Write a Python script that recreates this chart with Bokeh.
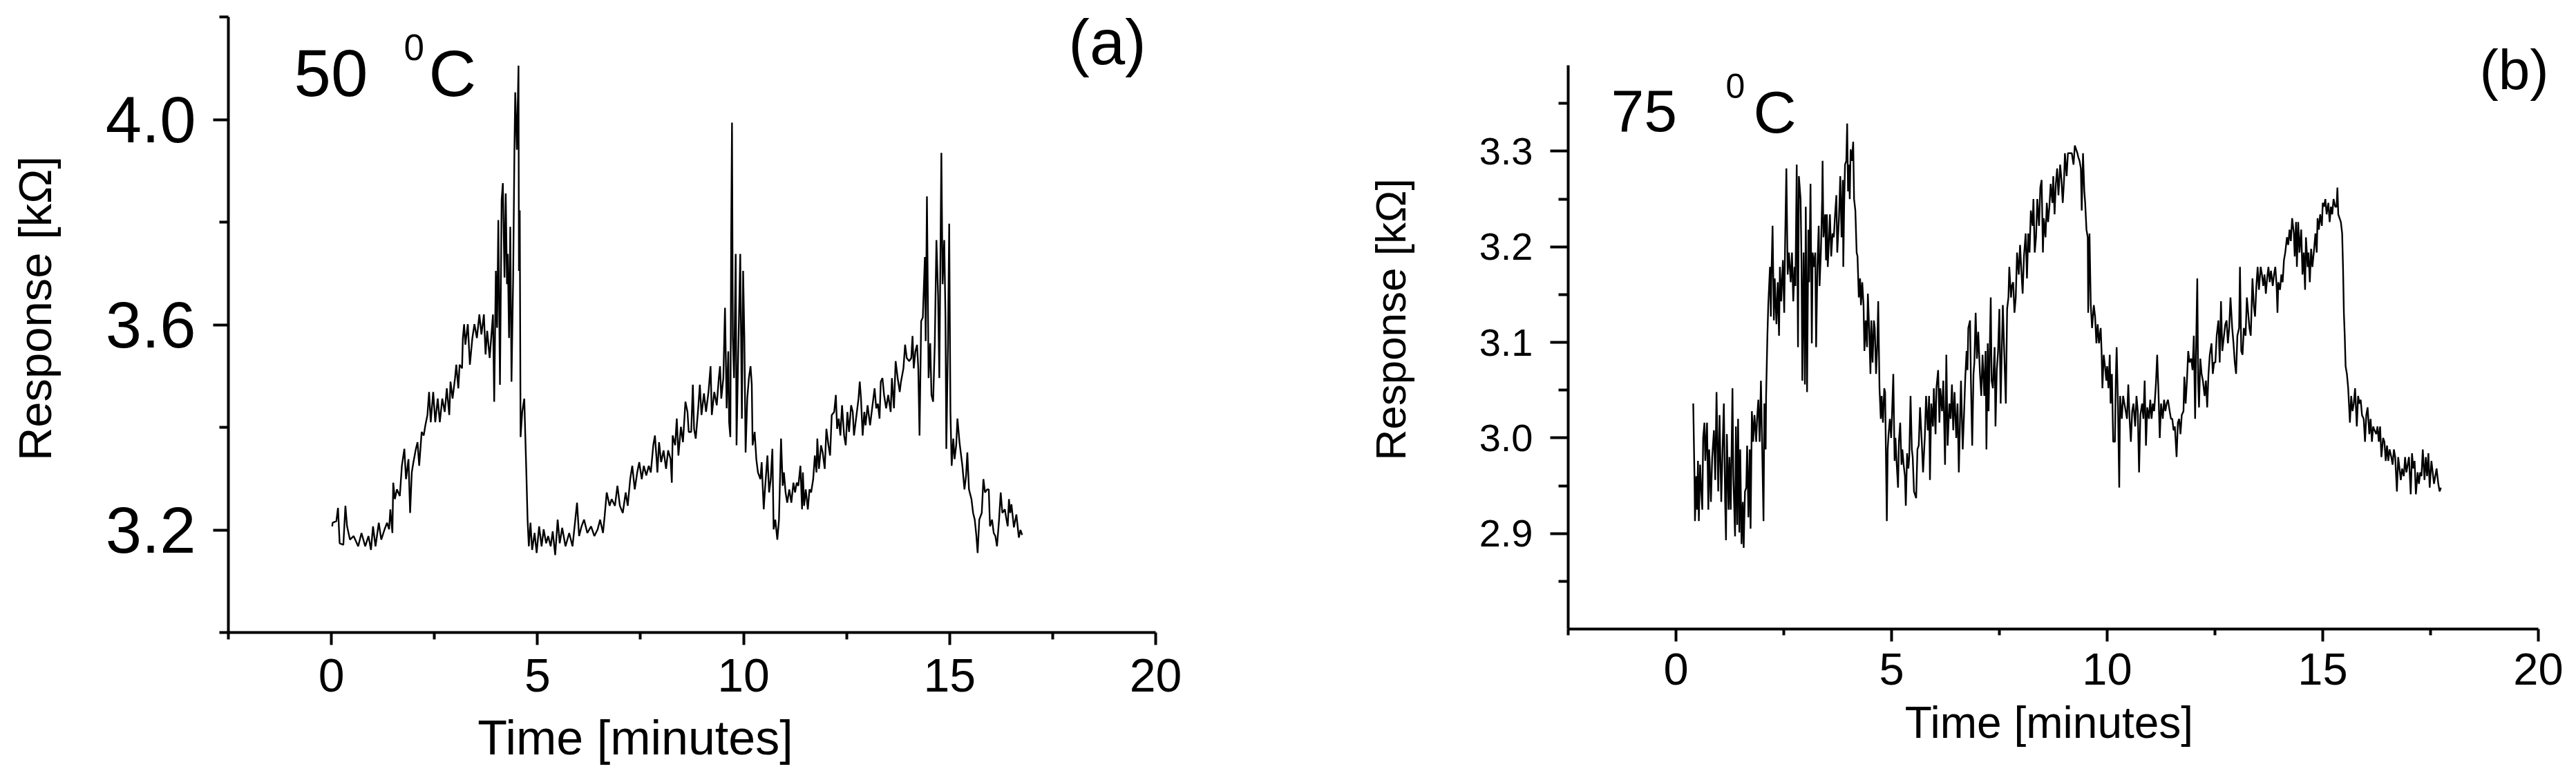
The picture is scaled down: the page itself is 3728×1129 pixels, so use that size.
import math
from bokeh.plotting import figure
from bokeh.models import FixedTicker, CustomJSTickFormatter, Label, Range1d
from bokeh.layouts import row
from bokeh.embed import file_html
from bokeh.resources import INLINE

# ---------------- data ----------------
# panel (a): 50 C  -> (time [min], response [kOhm])
trace_a = [
    (0.02, 3.207), (0.03, 3.214), (0.12, 3.217), (0.16, 3.243), (0.20, 3.174), (0.29, 3.171),
    (0.34, 3.247), (0.38, 3.207), (0.45, 3.181), (0.54, 3.188), (0.65, 3.168), (0.73, 3.194),
    (0.82, 3.168), (0.90, 3.188), (0.96, 3.161), (1.01, 3.207), (1.07, 3.168), (1.15, 3.214),
    (1.21, 3.181), (1.29, 3.201), (1.35, 3.214), (1.40, 3.201), (1.43, 3.240), (1.48, 3.194),
    (1.50, 3.292), (1.54, 3.260), (1.59, 3.279), (1.66, 3.266), (1.71, 3.325), (1.77, 3.358),
    (1.81, 3.299), (1.87, 3.338), (1.91, 3.233), (1.95, 3.312), (1.99, 3.332), (2.05, 3.358),
    (2.09, 3.371), (2.13, 3.325), (2.19, 3.391), (2.24, 3.384), (2.28, 3.404), (2.33, 3.424),
    (2.37, 3.469), (2.41, 3.410), (2.47, 3.469), (2.52, 3.410), (2.58, 3.456), (2.63, 3.410),
    (2.69, 3.456), (2.75, 3.430), (2.80, 3.476), (2.86, 3.424), (2.89, 3.489), (2.94, 3.456),
    (3.00, 3.496), (3.03, 3.522), (3.08, 3.476), (3.11, 3.522), (3.17, 3.515), (3.19, 3.574),
    (3.22, 3.601), (3.25, 3.561), (3.31, 3.601), (3.36, 3.522), (3.42, 3.574), (3.47, 3.601),
    (3.53, 3.574), (3.59, 3.620), (3.64, 3.581), (3.70, 3.620), (3.74, 3.542), (3.78, 3.588),
    (3.84, 3.535), (3.89, 3.588), (3.92, 3.620), (3.95, 3.450), (3.99, 3.705), (4.02, 3.594),
    (4.05, 3.804), (4.09, 3.483), (4.13, 3.843), (4.16, 3.876), (4.20, 3.692), (4.23, 3.856),
    (4.26, 3.679), (4.28, 3.738), (4.31, 3.574), (4.34, 3.791), (4.37, 3.489), (4.41, 3.692),
    (4.44, 3.935), (4.46, 4.053), (4.50, 3.941), (4.54, 4.105), (4.55, 3.705), (4.57, 3.823),
    (4.59, 3.381), (4.63, 3.430), (4.68, 3.456), (4.70, 3.397), (4.73, 3.312), (4.76, 3.220),
    (4.79, 3.168), (4.83, 3.214), (4.87, 3.161), (4.93, 3.194), (4.98, 3.155), (5.04, 3.207),
    (5.10, 3.168), (5.15, 3.201), (5.21, 3.174), (5.26, 3.188), (5.32, 3.168), (5.37, 3.197),
    (5.43, 3.151), (5.49, 3.220), (5.54, 3.174), (5.60, 3.204), (5.68, 3.168), (5.77, 3.194),
    (5.85, 3.168), (5.91, 3.214), (5.96, 3.253), (6.01, 3.188), (6.07, 3.207), (6.13, 3.220),
    (6.21, 3.194), (6.30, 3.207), (6.38, 3.188), (6.46, 3.201), (6.52, 3.220), (6.59, 3.194),
    (6.63, 3.227), (6.68, 3.273), (6.75, 3.247), (6.80, 3.260), (6.88, 3.247), (6.94, 3.286),
    (7.00, 3.247), (7.07, 3.233), (7.14, 3.273), (7.19, 3.247), (7.25, 3.299), (7.30, 3.325),
    (7.36, 3.279), (7.42, 3.312), (7.47, 3.332), (7.53, 3.299), (7.58, 3.325), (7.64, 3.306),
    (7.70, 3.325), (7.75, 3.312), (7.81, 3.365), (7.85, 3.384), (7.89, 3.338),
    (7.91, 3.312), (7.95, 3.371), (8.00, 3.332), (8.06, 3.355), (8.12, 3.319), (8.17, 3.355),
    (8.23, 3.338), (8.26, 3.292), (8.28, 3.384), (8.34, 3.365), (8.38, 3.417), (8.42, 3.345),
    (8.48, 3.401), (8.53, 3.371), (8.59, 3.450), (8.64, 3.430), (8.67, 3.391), (8.73, 3.391),
    (8.77, 3.483), (8.80, 3.397), (8.84, 3.378), (8.90, 3.437), (8.94, 3.483), (8.98, 3.424),
    (9.04, 3.466), (9.09, 3.430), (9.15, 3.469), (9.20, 3.519), (9.23, 3.424), (9.29, 3.469),
    (9.35, 3.443), (9.40, 3.496), (9.43, 3.519), (9.46, 3.456), (9.51, 3.496), (9.55, 3.633),
    (9.59, 3.437), (9.63, 3.548), (9.65, 3.410), (9.68, 3.381), (9.70, 3.771), (9.72, 3.994),
    (9.74, 3.574), (9.77, 3.496), (9.81, 3.738), (9.83, 3.365), (9.87, 3.542), (9.89, 3.614),
    (9.92, 3.738), (9.96, 3.417), (9.99, 3.705), (10.02, 3.574), (10.05, 3.351), (10.09, 3.456),
    (10.13, 3.496), (10.17, 3.519), (10.20, 3.483), (10.22, 3.365), (10.27, 3.391), (10.31, 3.338),
    (10.35, 3.312), (10.41, 3.299), (10.44, 3.332), (10.49, 3.240), (10.52, 3.279), (10.58, 3.345),
    (10.62, 3.273), (10.66, 3.299), (10.70, 3.358), (10.73, 3.201), (10.77, 3.220), (10.82, 3.181),
    (10.86, 3.220), (10.91, 3.378), (10.95, 3.286), (10.98, 3.312), (11.02, 3.273), (11.06, 3.253),
    (11.11, 3.279), (11.16, 3.253), (11.21, 3.292), (11.25, 3.273), (11.29, 3.292), (11.33, 3.286),
    (11.38, 3.325), (11.42, 3.240), (11.44, 3.312), (11.47, 3.247), (11.51, 3.279), (11.56, 3.240),
    (11.60, 3.279), (11.64, 3.273), (11.69, 3.299), (11.73, 3.345), (11.77, 3.312), (11.79, 3.378),
    (11.83, 3.319), (11.88, 3.365), (11.92, 3.351), (11.97, 3.319), (12.01, 3.397), (12.06, 3.365),
    (12.10, 3.345), (12.14, 3.424), (12.20, 3.430), (12.24, 3.463), (12.27, 3.397), (12.31, 3.417),
    (12.35, 3.384), (12.39, 3.443), (12.44, 3.384), (12.48, 3.365), (12.52, 3.430), (12.56, 3.391),
    (12.61, 3.443), (12.65, 3.430), (12.68, 3.384), (12.73, 3.417), (12.79, 3.456), (12.82, 3.489),
    (12.85, 3.456), (12.89, 3.384), (12.93, 3.430), (12.96, 3.404), (13.01, 3.443), (13.07, 3.404),
    (13.12, 3.437), (13.18, 3.476), (13.22, 3.437), (13.26, 3.446), (13.30, 3.417), (13.33, 3.489),
    (13.37, 3.496), (13.41, 3.463), (13.46, 3.437), (13.51, 3.463), (13.57, 3.430), (13.60, 3.496),
    (13.65, 3.437), (13.69, 3.529), (13.74, 3.496), (13.79, 3.469), (13.82, 3.489), (13.88, 3.515),
    (13.92, 3.561), (13.96, 3.535), (14.02, 3.529), (14.07, 3.535), (14.10, 3.578), (14.13, 3.515),
    (14.17, 3.548), (14.21, 3.561), (14.24, 3.515), (14.27, 3.384), (14.31, 3.607), (14.35, 3.614),
    (14.40, 3.732), (14.42, 3.568), (14.45, 3.850), (14.49, 3.496), (14.53, 3.564), (14.56, 3.463),
    (14.60, 3.450), (14.64, 3.561), (14.68, 3.765), (14.72, 3.659), (14.75, 3.496), (14.78, 3.758),
    (14.80, 3.935), (14.83, 3.679), (14.87, 3.765), (14.90, 3.614), (14.92, 3.358), (14.96, 3.561),
    (14.99, 3.797), (15.02, 3.430), (15.05, 3.325), (15.09, 3.378), (15.12, 3.338), (15.16, 3.365),
    (15.19, 3.417), (15.24, 3.371), (15.27, 3.351), (15.31, 3.325), (15.36, 3.279), (15.40, 3.306),
    (15.43, 3.351), (15.47, 3.279), (15.53, 3.260), (15.57, 3.233), (15.61, 3.220), (15.65, 3.188),
    (15.68, 3.155), (15.72, 3.220), (15.78, 3.233), (15.82, 3.299), (15.86, 3.273), (15.91, 3.279),
    (15.95, 3.279), (15.98, 3.207), (16.03, 3.220), (16.07, 3.194), (16.11, 3.188), (16.15, 3.168),
    (16.20, 3.220), (16.24, 3.273), (16.28, 3.233), (16.34, 3.240), (16.38, 3.220), (16.41, 3.207),
    (16.44, 3.260), (16.47, 3.233), (16.50, 3.250), (16.56, 3.205), (16.62, 3.230), (16.68, 3.185),
    (16.72, 3.200), (16.76, 3.190),
]

# panel (b): 75 C  -> (time [min], response [kOhm])
trace_b = [
    (0.40, 3.036), (0.43, 2.956), (0.44, 2.913), (0.47, 2.960), (0.49, 2.925), (0.51, 2.976),
    (0.53, 2.913), (0.56, 2.972), (0.59, 2.941), (0.61, 2.925), (0.63, 3.000), (0.66, 3.016),
    (0.68, 2.976), (0.72, 3.016), (0.75, 2.925), (0.77, 2.988), (0.81, 2.933), (0.84, 2.980),
    (0.88, 3.008), (0.91, 2.956), (0.94, 3.048), (0.98, 2.944), (1.01, 3.024), (1.05, 2.933),
    (1.08, 2.988), (1.11, 3.036), (1.14, 2.933), (1.16, 2.893), (1.18, 3.004), (1.22, 2.925),
    (1.24, 2.980), (1.27, 2.925), (1.31, 3.052), (1.33, 2.960), (1.37, 2.897), (1.39, 3.012),
    (1.42, 2.909), (1.44, 3.020), (1.47, 2.901), (1.49, 2.988), (1.52, 2.889), (1.55, 2.933),
    (1.57, 2.885), (1.60, 2.944), (1.63, 2.948), (1.65, 2.992), (1.68, 2.917), (1.71, 2.988),
    (1.73, 2.905), (1.76, 3.028), (1.79, 2.996), (1.82, 3.024), (1.86, 2.996), (1.88, 3.020),
    (1.91, 3.040), (1.94, 2.996), (1.97, 3.060), (2.00, 2.988), (2.03, 2.913), (2.05, 3.036),
    (2.08, 2.988), (2.09, 3.044), (2.12, 3.107), (2.14, 3.139), (2.18, 3.179), (2.20, 3.127),
    (2.21, 3.163), (2.24, 3.222), (2.27, 3.123), (2.29, 3.167), (2.33, 3.119), (2.36, 3.163),
    (2.39, 3.107), (2.41, 3.179), (2.44, 3.143), (2.48, 3.186), (2.51, 3.131), (2.53, 3.202),
    (2.56, 3.282), (2.59, 3.171), (2.62, 3.194), (2.66, 3.163), (2.69, 3.194), (2.72, 3.143),
    (2.75, 3.179), (2.77, 3.159), (2.80, 3.286), (2.83, 3.095), (2.85, 3.274), (2.89, 3.250),
    (2.91, 3.186), (2.93, 3.060), (2.96, 3.194), (2.99, 3.056), (3.01, 3.242), (3.04, 3.048),
    (3.07, 3.218), (3.09, 3.163), (3.12, 3.266), (3.15, 3.099), (3.17, 3.194), (3.20, 3.179),
    (3.23, 3.194), (3.25, 3.095), (3.28, 3.179), (3.31, 3.222), (3.33, 3.159), (3.36, 3.194),
    (3.39, 3.250), (3.40, 3.290), (3.42, 3.210), (3.46, 3.234), (3.48, 3.186), (3.50, 3.234),
    (3.52, 3.179), (3.55, 3.210), (3.57, 3.234), (3.60, 3.190), (3.63, 3.214), (3.66, 3.210),
    (3.69, 3.234), (3.72, 3.254), (3.74, 3.194), (3.78, 3.230), (3.81, 3.274), (3.84, 3.210),
    (3.87, 3.270), (3.88, 3.179), (3.90, 3.242), (3.92, 3.286), (3.95, 3.290), (3.97, 3.329),
    (3.99, 3.258), (4.01, 3.286), (4.03, 3.250), (4.05, 3.302), (4.08, 3.290), (4.11, 3.310),
    (4.13, 3.250), (4.16, 3.238), (4.19, 3.194), (4.21, 3.190), (4.24, 3.147), (4.27, 3.167),
    (4.29, 3.139), (4.32, 3.163), (4.35, 3.139), (4.37, 3.091), (4.40, 3.123), (4.43, 3.095),
    (4.45, 3.151), (4.48, 3.115), (4.51, 3.067), (4.53, 3.123), (4.56, 3.079), (4.59, 3.123),
    (4.61, 3.115), (4.64, 3.067), (4.67, 3.099), (4.69, 3.143), (4.72, 3.052), (4.75, 3.020),
    (4.77, 3.044), (4.80, 3.016), (4.83, 3.052), (4.85, 3.048), (4.89, 2.913), (4.91, 2.988),
    (4.93, 3.004), (4.96, 3.020), (4.99, 3.000), (5.01, 3.024), (5.04, 3.067), (5.07, 2.976),
    (5.09, 3.000), (5.12, 2.972), (5.15, 2.948), (5.17, 2.996), (5.20, 3.016), (5.23, 2.972),
    (5.25, 2.988), (5.28, 2.972), (5.31, 2.960), (5.33, 2.929), (5.36, 2.984), (5.39, 2.968),
    (5.41, 2.980), (5.44, 3.044), (5.47, 2.988), (5.49, 2.980), (5.52, 2.944),
    (5.57, 2.937), (5.60, 2.988), (5.63, 2.992), (5.66, 3.032), (5.70, 2.996), (5.73, 2.964),
    (5.77, 3.000), (5.80, 3.044), (5.84, 3.008), (5.87, 3.044), (5.89, 2.956), (5.92, 3.036),
    (5.96, 3.012), (5.98, 3.052), (6.02, 3.004), (6.04, 3.052), (6.08, 3.071), (6.11, 3.016),
    (6.13, 3.052), (6.17, 3.028), (6.20, 3.060), (6.24, 2.972), (6.27, 3.087), (6.30, 2.992),
    (6.34, 3.036), (6.37, 3.020), (6.40, 3.056), (6.43, 3.008), (6.46, 3.048), (6.50, 3.000),
    (6.53, 3.036), (6.56, 2.964), (6.59, 3.024), (6.61, 3.060), (6.65, 2.988), (6.68, 3.024),
    (6.71, 3.064), (6.74, 3.091), (6.76, 3.071), (6.78, 3.115), (6.82, 3.123), (6.84, 3.060),
    (6.87, 2.992), (6.90, 3.067), (6.92, 3.079), (6.95, 3.131), (6.98, 3.083), (7.01, 3.111),
    (7.05, 3.067), (7.08, 3.044), (7.11, 3.087), (7.15, 3.044), (7.18, 3.091), (7.20, 2.988),
    (7.23, 3.099), (7.25, 3.028), (7.30, 3.147), (7.32, 3.060), (7.35, 3.052), (7.39, 3.095),
    (7.41, 3.012), (7.44, 3.071), (7.47, 3.091), (7.50, 3.135), (7.53, 3.036), (7.55, 3.079),
    (7.58, 3.139), (7.62, 3.079), (7.65, 3.036), (7.68, 3.135), (7.71, 3.147), (7.73, 3.179),
    (7.77, 3.147), (7.79, 3.159), (7.82, 3.163), (7.85, 3.131), (7.88, 3.147), (7.91, 3.194),
    (7.95, 3.171), (7.98, 3.202), (8.01, 3.175), (8.04, 3.151), (8.07, 3.190), (8.11, 3.214),
    (8.14, 3.167), (8.17, 3.214), (8.20, 3.194), (8.23, 3.238), (8.27, 3.222), (8.29, 3.250),
    (8.32, 3.194), (8.35, 3.210), (8.38, 3.250), (8.42, 3.222), (8.45, 3.262), (8.48, 3.270),
    (8.51, 3.194), (8.53, 3.230), (8.57, 3.210), (8.60, 3.246), (8.63, 3.226), (8.66, 3.242),
    (8.69, 3.266), (8.73, 3.246), (8.75, 3.274), (8.78, 3.234), (8.81, 3.266), (8.84, 3.282),
    (8.87, 3.254), (8.91, 3.286), (8.94, 3.270), (8.97, 3.246), (9.00, 3.270), (9.02, 3.298),
    (9.06, 3.274), (9.09, 3.298), (9.12, 3.298), (9.15, 3.298), (9.18, 3.298), (9.22, 3.286),
    (9.25, 3.306), (9.28, 3.302), (9.31, 3.298), (9.33, 3.294), (9.36, 3.290), (9.39, 3.282),
    (9.41, 3.238), (9.44, 3.298), (9.47, 3.258), (9.49, 3.246), (9.52, 3.218), (9.55, 3.210),
    (9.56, 3.131), (9.59, 3.214), (9.62, 3.139), (9.65, 3.115), (9.69, 3.139), (9.72, 3.127),
    (9.75, 3.099), (9.78, 3.119), (9.81, 3.099), (9.85, 3.115), (9.87, 3.091), (9.89, 3.052),
    (9.92, 3.087), (9.95, 3.075), (9.98, 3.060), (10.00, 3.075), (10.03, 3.052), (10.06, 3.087),
    (10.08, 3.036), (10.11, 3.067), (10.14, 2.996), (10.18, 2.996), (10.20, 3.060), (10.22, 3.095),
    (10.25, 3.036), (10.28, 2.948), (10.30, 3.044), (10.34, 3.020), (10.37, 3.044), (10.40, 3.036),
    (10.43, 3.028), (10.46, 3.020), (10.49, 3.056), (10.52, 3.020), (10.55, 2.996), (10.58, 3.028),
    (10.61, 3.036), (10.65, 3.012), (10.68, 3.044), (10.71, 3.028), (10.74, 2.964), (10.77, 3.024),
    (10.81, 3.036), (10.84, 3.020), (10.87, 3.060), (10.90, 2.992), (10.93, 3.032), (10.97, 3.020),
    (11.00, 3.040), (11.03, 3.020), (11.06, 3.036), (11.09, 3.028), (11.13, 3.056), (11.16, 3.087),
    (11.19, 3.048), (11.22, 3.000), (11.25, 3.036), (11.29, 3.020), (11.32, 3.040), (11.35, 3.028),
    (11.38, 3.036), (11.41, 3.040), (11.45, 3.028), (11.48, 3.020), (11.51, 3.020), (11.54, 3.008),
    (11.57, 3.012), (11.61, 2.980), (11.64, 3.016), (11.67, 3.020), (11.70, 3.004), (11.73, 3.024),
    (11.77, 3.028), (11.79, 3.064), (11.82, 3.036), (11.85, 3.060), (11.88, 3.091), (11.91, 3.079),
    (11.95, 3.083), (11.98, 3.071), (12.01, 3.107), (12.04, 3.020), (12.06, 3.087), (12.09, 3.167),
    (12.11, 3.060), (12.13, 3.032), (12.16, 3.083), (12.19, 3.067), (12.22, 3.060), (12.26, 3.044),
    (12.29, 3.060), (12.32, 3.032), (12.35, 3.067), (12.38, 3.087), (12.42, 3.099), (12.45, 3.067),
    (12.48, 3.079), (12.51, 3.079), (12.54, 3.107), (12.58, 3.123), (12.61, 3.079), (12.64, 3.143),
    (12.67, 3.091), (12.70, 3.103), (12.74, 3.119), (12.77, 3.123), (12.80, 3.099), (12.83, 3.115),
    (12.86, 3.147), (12.90, 3.115), (12.93, 3.099), (12.96, 3.079), (12.99, 3.067), (13.02, 3.107),
    (13.06, 3.115), (13.08, 3.179), (13.11, 3.091), (13.14, 3.087), (13.17, 3.115), (13.21, 3.107),
    (13.24, 3.147), (13.27, 3.131), (13.30, 3.115), (13.33, 3.107), (13.37, 3.167), (13.40, 3.139),
    (13.43, 3.127), (13.46, 3.159), (13.49, 3.179), (13.52, 3.155), (13.56, 3.179), (13.59, 3.171),
    (13.62, 3.159), (13.65, 3.171), (13.68, 3.151),
    (13.71, 3.167), (13.74, 3.179), (13.77, 3.163), (13.80, 3.175), (13.84, 3.159), (13.87, 3.171),
    (13.90, 3.179), (13.93, 3.159), (13.95, 3.131), (13.97, 3.163), (14.01, 3.155), (14.04, 3.171),
    (14.07, 3.163), (14.10, 3.186), (14.13, 3.194), (14.17, 3.210), (14.20, 3.202), (14.23, 3.218),
    (14.26, 3.206), (14.29, 3.230), (14.33, 3.214), (14.35, 3.190), (14.38, 3.226), (14.40, 3.179),
    (14.43, 3.226), (14.46, 3.194), (14.50, 3.218), (14.53, 3.171), (14.56, 3.194), (14.59, 3.155),
    (14.61, 3.210), (14.65, 3.179), (14.67, 3.194), (14.70, 3.163), (14.73, 3.198), (14.76, 3.179),
    (14.80, 3.198), (14.83, 3.214), (14.86, 3.194), (14.88, 3.230), (14.91, 3.218), (14.94, 3.234),
    (14.98, 3.222), (15.00, 3.246), (15.03, 3.242), (15.06, 3.250), (15.09, 3.234), (15.13, 3.246),
    (15.16, 3.226), (15.19, 3.242), (15.22, 3.234), (15.25, 3.250), (15.29, 3.242), (15.32, 3.242),
    (15.34, 3.262), (15.36, 3.234), (15.39, 3.230), (15.42, 3.226), (15.45, 3.214), (15.47, 3.179),
    (15.49, 3.131), (15.51, 3.107), (15.53, 3.075), (15.56, 3.067), (15.59, 3.052), (15.63, 3.016),
    (15.66, 3.044), (15.69, 3.028), (15.72, 3.036), (15.75, 3.052), (15.79, 3.012), (15.82, 3.044),
    (15.85, 3.036), (15.88, 3.040), (15.91, 3.024), (15.95, 3.020), (15.98, 2.996), (16.01, 3.024),
    (16.04, 3.032), (16.08, 3.004), (16.11, 3.020), (16.14, 2.996), (16.17, 3.012), (16.20, 3.008),
    (16.24, 3.004), (16.27, 3.012), (16.30, 2.996), (16.33, 3.012), (16.36, 2.980), (16.40, 3.000),
    (16.43, 2.996), (16.46, 2.976), (16.49, 2.992), (16.52, 2.976), (16.55, 2.988), (16.59, 2.980),
    (16.62, 2.972), (16.65, 2.988), (16.68, 2.980), (16.72, 2.944), (16.75, 2.980), (16.78, 2.968),
    (16.81, 2.956), (16.84, 2.968), (16.88, 2.960), (16.91, 2.980), (16.94, 2.964), (16.97, 2.972),
    (17.00, 2.980), (17.04, 2.941), (17.07, 2.984), (17.10, 2.968), (17.13, 2.976), (17.16, 2.941),
    (17.20, 2.964), (17.23, 2.952), (17.26, 2.964), (17.29, 2.960), (17.32, 2.988), (17.36, 2.956),
    (17.39, 2.980), (17.42, 2.960), (17.45, 2.984), (17.48, 2.948), (17.52, 2.976), (17.55, 2.964),
    (17.58, 2.952), (17.61, 2.960), (17.64, 2.968), (17.68, 2.952), (17.71, 2.944), (17.74, 2.948),
]

time_a = [p[0] for p in trace_a]
resp_a = [p[1] for p in trace_a]
time_b = [p[0] for p in trace_b]
resp_b = [p[1] for p in trace_b]

# axis extents and ticks
x_bounds = (-2.5, 20.0)
x_major = [0, 5, 10, 15, 20]
x_minor = [-2.5, 2.5, 7.5, 12.5, 17.5]
ya_bounds = (3.0, 4.2)
ya_major = [3.2, 3.6, 4.0]
ya_minor = [3.0, 3.4, 3.8, 4.2]
yb_bounds = (2.8, 3.39)
yb_major = [2.9, 3.0, 3.1, 3.2, 3.3]
yb_minor = [2.85, 2.95, 3.05, 3.15, 3.25, 3.35]

x_title = "Time [minutes]"
y_title = "Response [k\u03a9]"
temp_a = "50"
temp_b = "75"
panel_a = "(a)"
panel_b = "(b)"

FONT = "Liberation Sans"
MID = 0.3465   # distance (in em) from baseline to the middle of the text box

# ---------------- layout (page pixels) ----------------
FIG_TOP, FIG_H = 0, 1126
A_X0, A_W = 0, 1858
B_X0, B_W = 1858, 1866
A_BOX = (330, 1672, 24, 915)      # axis box of (a): left, right, top, bottom
B_BOX = (2269, 3673, 94, 910)     # axis box of (b)


class Panel:
    def __init__(self, x0, w, box, xb, yb):
        self.x0, self.w, self.box, self.xb, self.yb = x0, w, box, xb, yb

    def data(self, px, py):
        L, R, T, B = self.box
        x = self.xb[0] + (px - L) / (R - L) * (self.xb[1] - self.xb[0])
        y = self.yb[0] + (B - py) / (B - T) * (self.yb[1] - self.yb[0])
        return x, y

    def ranges(self):
        x_lo, y_lo = self.data(self.x0, FIG_TOP + FIG_H)
        x_hi, y_hi = self.data(self.x0 + self.w, FIG_TOP)
        return (x_lo, x_hi), (y_lo, y_hi)


def make_fig(pan):
    xr, yr = pan.ranges()
    p = figure(width=pan.w, height=FIG_H, x_range=Range1d(*xr), y_range=Range1d(*yr),
               output_backend="svg", toolbar_location=None, title_location=None,
               min_border=0, min_border_left=0, min_border_right=0,
               min_border_top=0, min_border_bottom=0)
    p.xgrid.visible = False
    p.ygrid.visible = False
    p.outline_line_color = None
    p.background_fill_color = "white"
    p.border_fill_color = "white"
    return p


def style_axis(ax, loc, bounds, major, minor, tick_out, minor_out, font_size, standoff, decimals=False):
    ax.fixed_location = loc
    ax.bounds = bounds
    ax.ticker = FixedTicker(ticks=major, minor_ticks=minor)
    if decimals:
        ax.formatter = CustomJSTickFormatter(code="return tick.toFixed(1);")
    ax.axis_line_color = "black"
    ax.axis_line_width = 4
    ax.major_tick_line_color = "black"
    ax.minor_tick_line_color = "black"
    ax.major_tick_line_width = 4
    ax.minor_tick_line_width = 4
    ax.major_tick_in = 0
    ax.minor_tick_in = 0
    ax.major_tick_out = tick_out
    ax.minor_tick_out = minor_out
    ax.major_label_text_font = FONT
    ax.major_label_text_font_size = font_size
    ax.major_label_text_color = "black"
    ax.major_label_standoff = standoff


def add_label(p, pan, px, py, text, size, align="left", angle=0.0):
    # (px, py) is the baseline anchor in page pixels; convert to text-box middle
    if angle == 0.0:
        py = py - MID * size
    else:
        px = px - MID * size
    x, y = pan.data(px, py)
    p.add_layout(Label(x=x, y=y, text=text, text_font=FONT, text_font_size=f"{size}px",
                       text_color="black", text_align=align, text_baseline="middle",
                       angle=angle))


# ---------------- panel (a) ----------------
PA = Panel(A_X0, A_W, A_BOX, x_bounds, ya_bounds)
pa = make_fig(PA)
pa.line(time_a, resp_a, line_color="black", line_width=2.4)
style_axis(pa.xaxis[0], ya_bounds[0], x_bounds, x_major, x_minor, 18, 10, "68px", 20)
style_axis(pa.yaxis[0], x_bounds[0], ya_bounds, ya_major, ya_minor, 22, 13, "94px", 25, decimals=True)

add_label(pa, PA, 919, 1092, x_title, 70, align="center")
add_label(pa, PA, 73, 446, y_title, 67, align="center", angle=math.pi / 2)
add_label(pa, PA, 425, 138, temp_a, 96)
add_label(pa, PA, 584, 86, "0", 53)
add_label(pa, PA, 620, 138, "C", 95)
add_label(pa, PA, 1602, 92, panel_a, 92, align="center")

# ---------------- panel (b) ----------------
PB = Panel(B_X0, B_W, B_BOX, x_bounds, yb_bounds)
pb = make_fig(PB)
pb.line(time_b, resp_b, line_color="black", line_width=2.4)
style_axis(pb.xaxis[0], yb_bounds[0], x_bounds, x_major, x_minor, 18, 9, "65px", 17)
style_axis(pb.yaxis[0], x_bounds[0], yb_bounds, yb_major, yb_minor, 26, 14, "56px", 25, decimals=True)

add_label(pb, PB, 2965, 1068, x_title, 64, align="center")
add_label(pb, PB, 2033, 462, y_title, 62, align="center", angle=math.pi / 2)
add_label(pb, PB, 2331, 190, temp_b, 86)
add_label(pb, PB, 2497, 141, "0", 50)
add_label(pb, PB, 2537, 191, "C", 86)
add_label(pb, PB, 3638, 128, panel_b, 82, align="center")

layout = row(pa, pb)
open("out.html", "w").write(file_html(layout, INLINE))
